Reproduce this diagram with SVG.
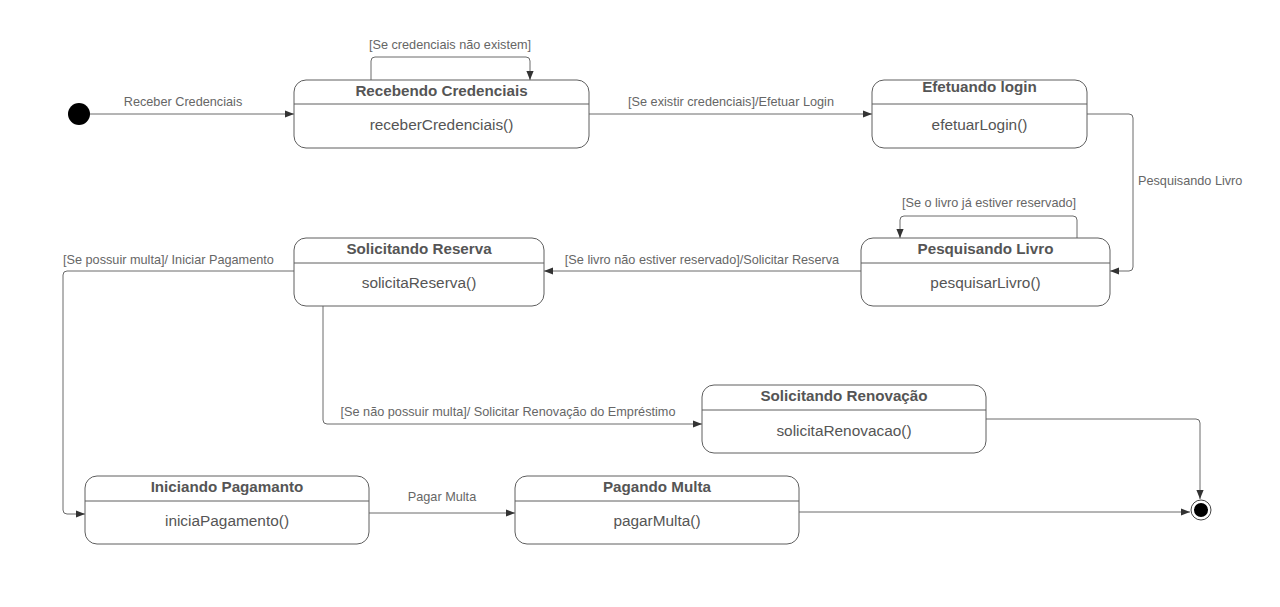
<svg xmlns="http://www.w3.org/2000/svg" width="1280" height="607" viewBox="0 0 1280 607">
<style>
.box{fill:#fff;stroke:#5e5e5e;stroke-width:1}
.div{stroke:#5e5e5e;stroke-width:1}
.t{font-family:"Liberation Sans",Arial,sans-serif;font-size:15.2px;font-weight:bold;fill:#555;text-anchor:middle}
.b{font-family:"Liberation Sans",Arial,sans-serif;font-size:15.4px;fill:#555;text-anchor:middle}
.l{font-family:"Liberation Sans",Arial,sans-serif;font-size:12.7px;fill:#666}
.c{fill:none;stroke:#6a6a6a;stroke-width:1}
</style>
<defs>
<marker id="ah" viewBox="0 0 10 10" refX="10" refY="5" markerWidth="9" markerHeight="9" markerUnits="userSpaceOnUse" orient="auto">
<path d="M0,1 L10,5 L0,9 Z" fill="#333"/>
</marker>
</defs>
<rect width="1280" height="607" fill="#fff"/>

<g id="connectors">
<path class="c" d="M90,114 H294" marker-end="url(#ah)"/>
<text class="l" x="183" y="106" text-anchor="middle">Receber Credenciais</text>
<path class="c" d="M371,80 V61 Q371,57 375,57 H526 Q530,57 530,61 V80" marker-end="url(#ah)"/>
<text class="l" x="450" y="49" text-anchor="middle">[Se credenciais não existem]</text>
<path class="c" d="M589,114 H872" marker-end="url(#ah)"/>
<text class="l" x="731" y="106" text-anchor="middle">[Se existir credenciais]/Efetuar Login</text>
<path class="c" d="M1087,114 H1129 Q1133,114 1133,118 V267 Q1133,271 1129,271 H1110" marker-end="url(#ah)"/>
<text class="l" x="1138" y="185">Pesquisando Livro</text>
<path class="c" d="M1077,238 V220 Q1077,216 1073,216 H904 Q900,216 900,220 V238" marker-end="url(#ah)"/>
<text class="l" x="989" y="207" text-anchor="middle">[Se o livro já estiver reservado]</text>
<path class="c" d="M861,271 H544" marker-end="url(#ah)"/>
<text class="l" x="702" y="264" text-anchor="middle">[Se livro não estiver reservado]/Solicitar Reserva</text>
<path class="c" d="M294,271 H67 Q63,271 63,275 V510 Q63,514 67,514 H85" marker-end="url(#ah)"/>
<text class="l" x="63" y="264">[Se possuir multa]/ Iniciar Pagamento</text>
<path class="c" d="M323,306 V420 Q323,424 327,424 H702" marker-end="url(#ah)"/>
<text class="l" x="508" y="416" text-anchor="middle">[Se não possuir multa]/ Solicitar Renovação do Empréstimo</text>
<path class="c" d="M986,419 H1196 Q1200,419 1200,423 V499" marker-end="url(#ah)"/>
<path class="c" d="M369,513 H515" marker-end="url(#ah)"/>
<text class="l" x="442" y="501" text-anchor="middle">Pagar Multa</text>
<path class="c" d="M799,512 H1190" marker-end="url(#ah)"/>
</g>

<g id="initial"><circle cx="79" cy="114" r="11" fill="#000"/></g>

<g id="final">
<circle cx="1201" cy="510" r="10" fill="#fff" stroke="#444" stroke-width="1"/>
<circle cx="1201" cy="510" r="7" fill="#000"/>
</g>

<g id="recebendo">
<rect class="box" x="294" y="80" width="295" height="68" rx="12"/>
<line class="div" x1="294" y1="104" x2="589" y2="104"/>
<text class="t" x="441.5" y="96">Recebendo Credenciais</text>
<text class="b" x="441.5" y="130">receberCredenciais()</text>
</g>

<g id="efetuando">
<rect class="box" x="872" y="80" width="215" height="68" rx="12"/>
<line class="div" x1="872" y1="104" x2="1087" y2="104"/>
<text class="t" x="979.5" y="92">Efetuando login</text>
<text class="b" x="979.5" y="130">efetuarLogin()</text>
</g>

<g id="pesquisando">
<rect class="box" x="861" y="238" width="249" height="68" rx="12"/>
<line class="div" x1="861" y1="263" x2="1110" y2="263"/>
<text class="t" x="985.5" y="254">Pesquisando Livro</text>
<text class="b" x="985.5" y="288">pesquisarLivro()</text>
</g>

<g id="solicitando-reserva">
<rect class="box" x="294" y="238" width="250" height="68" rx="12"/>
<line class="div" x1="294" y1="263" x2="544" y2="263"/>
<text class="t" x="419" y="254">Solicitando Reserva</text>
<text class="b" x="419" y="288">solicitaReserva()</text>
</g>

<g id="solicitando-renovacao">
<rect class="box" x="702" y="385" width="284" height="68" rx="12"/>
<line class="div" x1="702" y1="410" x2="986" y2="410"/>
<text class="t" x="844" y="401">Solicitando Renovação</text>
<text class="b" x="844" y="436">solicitaRenovacao()</text>
</g>

<g id="iniciando-pagamento">
<rect class="box" x="85" y="476" width="284" height="68" rx="12"/>
<line class="div" x1="85" y1="501" x2="369" y2="501"/>
<text class="t" x="227" y="492">Iniciando Pagamanto</text>
<text class="b" x="227" y="526">iniciaPagamento()</text>
</g>

<g id="pagando-multa">
<rect class="box" x="515" y="476" width="284" height="68" rx="12"/>
<line class="div" x1="515" y1="501" x2="799" y2="501"/>
<text class="t" x="657" y="492">Pagando Multa</text>
<text class="b" x="657" y="526">pagarMulta()</text>
</g>
</svg>
